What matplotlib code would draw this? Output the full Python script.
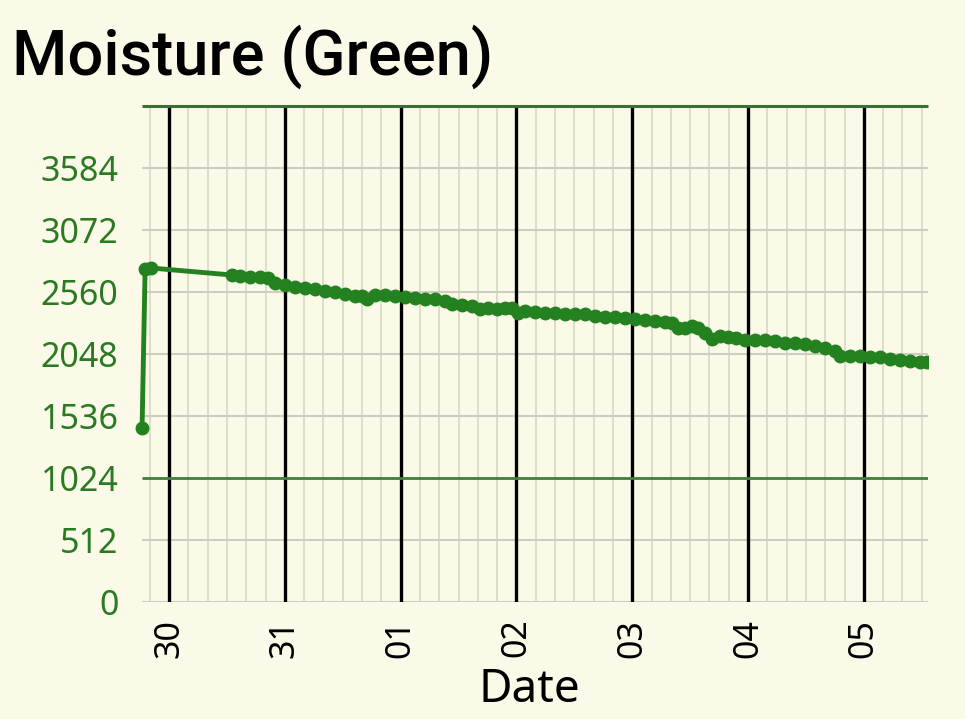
import numpy as np
import pandas as pd
import matplotlib
matplotlib.use("Agg")
import matplotlib.pyplot as plt
import matplotlib.dates as mdates

# readings (timestamp, moisture value)
times = [
    "07-29 18:24", "07-29 19:02", "07-29 20:16",
    "07-30 13:04", "07-30 14:43", "07-30 16:47", "07-30 18:52", "07-30 20:31", "07-30 21:58",
    "07-31 00:02", "07-31 02:07", "07-31 04:11", "07-31 06:16", "07-31 08:20", "07-31 10:24",
    "07-31 12:29", "07-31 14:33", "07-31 16:00", "07-31 17:02", "07-31 18:42", "07-31 20:46",
    "07-31 22:50",
    "08-01 00:55", "08-01 02:59", "08-01 05:04", "08-01 07:08", "08-01 09:12", "08-01 10:39",
    "08-01 12:43", "08-01 14:48", "08-01 16:27", "08-01 18:07", "08-01 19:59", "08-01 21:38",
    "08-01 23:05",
    "08-02 00:20", "08-02 01:47", "08-02 03:52", "08-02 05:56", "08-02 08:00", "08-02 10:04",
    "08-02 12:09", "08-02 14:13", "08-02 16:17", "08-02 18:22", "08-02 20:26", "08-02 22:31",
    "08-03 00:35", "08-03 02:39", "08-03 04:43", "08-03 06:48", "08-03 08:15", "08-03 09:29",
    "08-03 10:56", "08-03 12:23", "08-03 13:38", "08-03 15:05", "08-03 16:32", "08-03 18:12",
    "08-03 19:51", "08-03 21:31", "08-03 23:23",
    "08-04 01:27", "08-04 03:31", "08-04 05:35", "08-04 07:40", "08-04 09:44", "08-04 11:49",
    "08-04 13:53", "08-04 15:58", "08-04 18:02", "08-04 19:04", "08-04 21:08", "08-04 23:13",
    "08-05 01:17", "08-05 03:22", "08-05 05:26", "08-05 07:30", "08-05 09:34", "08-05 11:39",
    "08-05 13:06",
]
moisture = [
    1437, 2750, 2758,
    2700, 2692, 2684, 2684, 2676, 2634,
    2618, 2601, 2593, 2585, 2568, 2560,
    2543, 2527, 2527, 2502, 2535, 2535,
    2527,
    2519, 2510, 2502, 2502, 2486, 2461,
    2453, 2444, 2420, 2428, 2420, 2428,
    2428,
    2387, 2403, 2395, 2387, 2387, 2378,
    2378, 2378, 2362, 2354, 2354, 2345,
    2337, 2329, 2320, 2312, 2304, 2263,
    2263, 2279, 2263, 2222, 2172, 2197,
    2188, 2180, 2164,
    2164, 2164, 2155, 2139, 2139, 2131,
    2114, 2098, 2073, 2032, 2032, 2032,
    2023, 2023, 2007, 1998, 1990, 1982,
    1982,
]
y_ticks = [0, 512, 1024, 1536, 2048, 2560, 3072, 3584]

t = pd.to_datetime(["2023-" + s for s in times], format="%Y-%m-%d %H:%M")

bg = "#fbf9e8"
line_green = "#23821f"
fig = plt.figure(figsize=(9.65, 7.19), dpi=100, facecolor=bg)
ax = fig.add_axes([0.1358, 0.1627, 0.8259, 0.6899], facecolor=bg)

x_left = pd.Timestamp("2023-07-29 16:07")
x_right = pd.Timestamp("2023-08-05 13:18")
ax.set_xlim(x_left, x_right)
ax.set_ylim(0, 4096)

# vertical grid: minor every 4h, black line at each day
minor = pd.date_range("2023-07-29 16:00", x_right, freq="4h")
for m in minor:
    if m.hour == 0:
        ax.axvline(m, color="black", lw=2.4, zorder=2)
    else:
        ax.axvline(m, color="#d6d4c2", lw=1.1, zorder=1)

# horizontal lines starting at first reading
for v in y_ticks:
    if v == 1024:
        ax.hlines(v, t[0], x_right, color="#3f7f3a", lw=2, zorder=2)
    else:
        ax.hlines(v, t[0], x_right, color="#cfcdbd", lw=1.5, zorder=1)
ax.hlines(4096, t[0], x_right, color="#3c6e37", lw=2.2, zorder=2, clip_on=False)

ax.plot(t, moisture, color=line_green, lw=3.5, marker="o", ms=9, zorder=3)

for s in ax.spines.values():
    s.set_visible(False)

ax.set_yticks(y_ticks)
ax.set_yticklabels([str(v) for v in y_ticks])
ax.tick_params(axis="y", length=0, pad=9, labelsize=24.5, labelcolor="#2a7a22")
ax.xaxis.set_major_locator(mdates.DayLocator())
ax.xaxis.set_major_formatter(mdates.DateFormatter("%d"))
ax.tick_params(axis="x", length=0, pad=12, labelsize=24.5, labelrotation=90)
for lab in ax.get_xticklabels() + ax.get_yticklabels():
    lab.set_family("Noto Sans")

ax.set_xlabel("Date", fontsize=33, family="Noto Sans", labelpad=7)
fig.text(12 / 965, 1 - 75 / 719, "Moisture (Green)", fontsize=45.5, family="Roboto",
         fontweight="medium", va="baseline", ha="left")

fig.savefig("out.png", dpi=100, facecolor=bg)
